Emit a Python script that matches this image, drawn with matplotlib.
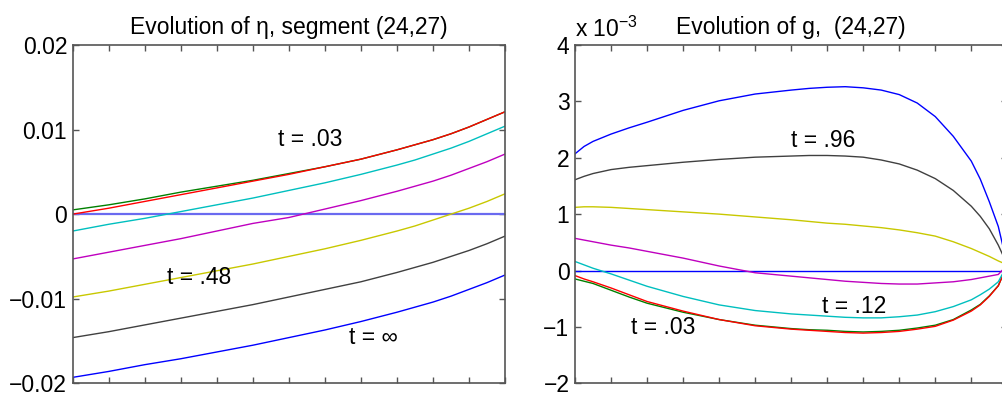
import numpy as np
import matplotlib
matplotlib.use("Agg")
import matplotlib.pyplot as plt

plt.rcParams['font.family'] = ['Liberation Sans', 'DejaVu Sans']
plt.rcParams['mathtext.fontset'] = 'custom'
plt.rcParams['mathtext.rm'] = 'Liberation Sans'
plt.rcParams['mathtext.it'] = 'Liberation Sans'
plt.rcParams['axes.unicode_minus'] = True

# MATLAB colour order: b g r c m y k (last blue is t = inf)
times = ['0', '.03', '.06', '.12', '.24', '.48', '.96', 'inf']
colors = ['#0000ff', '#008000', '#ff0000', '#00bfbf', '#bf00bf', '#c8c800', '#404040', '#0000ff']

# ---- left panel: eta along segment (24,27) ----
x_eta = [0, 1, 2, 3, 4, 5, 6, 7, 8, 9, 9.5, 10, 10.5, 11, 11.5, 12]
eta_0 = [0] * 16
eta_03 = [0.0005, 0.0011, 0.0018, 0.0026, 0.0033, 0.0040, 0.0048, 0.0056, 0.0065, 0.0076, 0.0082, 0.0088, 0.0095, 0.0103, 0.0112, 0.0121]
eta_06 = [0.0, 0.0007, 0.0015, 0.0023, 0.0031, 0.0039, 0.0047, 0.0056, 0.0065, 0.0076, 0.0082, 0.0088, 0.0095, 0.0103, 0.0112, 0.0121]
eta_12 = [-0.0020, -0.0012, -0.0005, 0.0003, 0.0011, 0.0019, 0.0028, 0.0037, 0.0047, 0.0058, 0.0064, 0.0071, 0.0078, 0.0086, 0.0095, 0.0104]
eta_24 = [-0.0053, -0.0045, -0.0037, -0.0029, -0.0020, -0.0011, -0.0004, 0.0006, 0.0016, 0.0027, 0.0033, 0.0039, 0.0046, 0.0054, 0.0062, 0.0071]
eta_48 = [-0.0098, -0.0091, -0.0083, -0.0075, -0.0067, -0.0059, -0.0050, -0.0041, -0.0031, -0.0020, -0.0014, -0.0007, 0.0000, 0.0007, 0.0015, 0.0024]
eta_96 = [-0.0146, -0.0139, -0.0131, -0.0123, -0.0115, -0.0107, -0.0098, -0.0089, -0.0080, -0.0069, -0.0063, -0.0057, -0.0050, -0.0043, -0.0035, -0.0026]
eta_inf = [-0.0193, -0.0186, -0.0178, -0.0171, -0.0163, -0.0155, -0.0146, -0.0137, -0.0127, -0.0116, -0.0110, -0.0104, -0.0097, -0.0089, -0.0081, -0.0072]
eta_series = [eta_0, eta_03, eta_06, eta_12, eta_24, eta_48, eta_96, eta_inf]

# ---- right panel: g (units of 1e-3) ----
x_g = [0, 0.25, 0.5, 1, 1.5, 2, 3, 4, 5, 6, 6.5, 7, 7.5, 8, 8.5, 9, 9.5, 10, 10.5, 11, 11.25, 11.5, 11.75, 12]
g_0 = [0] * 24
g_03 = [-0.15, -0.19, -0.23, -0.35, -0.47, -0.58, -0.74, -0.87, -0.97, -1.03, -1.05, -1.06, -1.08, -1.09, -1.08, -1.06, -1.02, -0.97, -0.87, -0.70, -0.60, -0.45, -0.27, 0.10]
g_06 = [-0.09, -0.15, -0.20, -0.31, -0.43, -0.55, -0.72, -0.87, -0.98, -1.04, -1.06, -1.08, -1.10, -1.11, -1.10, -1.08, -1.04, -0.99, -0.88, -0.72, -0.61, -0.46, -0.27, 0.10]
g_12 = [0.16, 0.10, 0.04, -0.06, -0.17, -0.28, -0.46, -0.61, -0.71, -0.77, -0.79, -0.81, -0.83, -0.84, -0.84, -0.82, -0.79, -0.73, -0.64, -0.52, -0.43, -0.33, -0.20, 0.10]
g_24 = [0.57, 0.54, 0.51, 0.45, 0.40, 0.34, 0.22, 0.08, -0.04, -0.10, -0.13, -0.16, -0.19, -0.21, -0.23, -0.24, -0.24, -0.22, -0.20, -0.16, -0.13, -0.10, -0.07, 0.10]
g_48 = [1.12, 1.13, 1.13, 1.12, 1.10, 1.08, 1.04, 1.00, 0.95, 0.90, 0.87, 0.84, 0.82, 0.79, 0.76, 0.72, 0.67, 0.61, 0.51, 0.39, 0.32, 0.25, 0.17, 0.10]
g_96 = [1.61, 1.67, 1.72, 1.79, 1.83, 1.86, 1.92, 1.97, 2.01, 2.03, 2.04, 2.04, 2.03, 2.01, 1.96, 1.89, 1.78, 1.63, 1.42, 1.14, 0.96, 0.74, 0.45, 0.10]
g_inf = [2.07, 2.20, 2.29, 2.42, 2.53, 2.63, 2.84, 3.01, 3.13, 3.20, 3.23, 3.25, 3.26, 3.24, 3.20, 3.12, 2.97, 2.73, 2.38, 1.94, 1.62, 1.22, 0.78, 0.10]
g_series = [g_0, g_03, g_06, g_12, g_24, g_48, g_96, g_inf]

eta_ticks = [-0.02, -0.01, 0, 0.01, 0.02]
eta_ticklabels = ['\u22120.02', '\u22120.01', '0', '0.01', '0.02']
g_ticks = [-2, -1, 0, 1, 2, 3, 4]
g_ticklabels = ['\u22122', '\u22121', '0', '1', '2', '3', '4']

fs = 16.5
spine_col = '#555555'

fig = plt.figure(figsize=(10.02, 3.98), dpi=100)
ax1 = fig.add_axes([0.0726, 0.037, 0.4314, 0.850])
ax2 = fig.add_axes([0.5739, 0.037, 0.4314, 0.850])


def style(ax, yticks, ylabels, ylim):
    ax.set_xlim(0, 12)
    ax.set_ylim(*ylim)
    ax.set_xticks(np.arange(0, 13, 1))
    ax.set_xticklabels([])
    ax.set_yticks(yticks)
    ax.set_yticklabels(ylabels)
    ax.tick_params(direction='in', top=True, right=True, length=4, width=1,
                   color=spine_col, labelsize=fs, pad=4)
    for s in ax.spines.values():
        s.set_color(spine_col)
        s.set_linewidth(1.2)


for i, (ys, c) in enumerate(zip(eta_series, colors)):
    if i == 0:
        ax1.plot(x_eta, ys, color='#6a6af0', lw=1.6)
    else:
        ax1.plot(x_eta, ys, color=c, lw=1.0)
style(ax1, eta_ticks, eta_ticklabels, (-0.02, 0.02))
ax1.set_title('Evolution of \u03b7, segment (24,27)', fontsize=fs, pad=8)
ax1.text(6.6, 0.0088, 't = .03', fontsize=fs, ha='center', va='center')
ax1.text(3.5, -0.0075, 't = .48', fontsize=fs, ha='center', va='center')
ax1.text(8.35, -0.0146, 't = \u221e', fontsize=fs, ha='center', va='center')

for ys, c in zip(g_series, colors):
    ax2.plot(x_g, ys, color=c, lw=1.0)
style(ax2, g_ticks, g_ticklabels, (-2, 4))
ax2.set_title('Evolution of g,  (24,27)', fontsize=fs, pad=8)
ax2.text(0.0, 1.01, 'x 10$^{\u22123}$', transform=ax2.transAxes, fontsize=fs,
         ha='left', va='bottom')
ax2.text(6.9, 2.3, 't = .96', fontsize=fs, ha='center', va='center')
ax2.text(7.75, -0.64, 't = .12', fontsize=fs, ha='center', va='center')
ax2.text(2.45, -1.01, 't = .03', fontsize=fs, ha='center', va='center')

fig.savefig('out.png', dpi=100)
